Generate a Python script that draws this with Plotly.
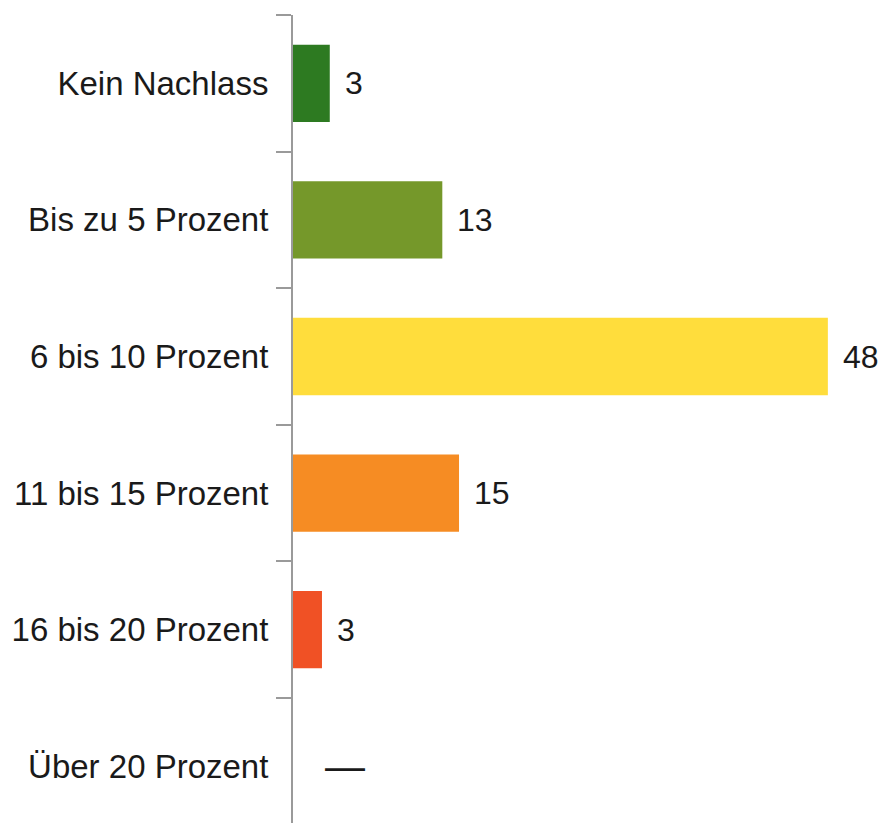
import plotly.graph_objects as go

categories = ["Kein Nachlass", "Bis zu 5 Prozent", "6 bis 10 Prozent",
              "11 bis 15 Prozent", "16 bis 20 Prozent", "Über 20 Prozent"]
values = [3.3, 13.4, 48.0, 14.9, 2.6, 0.0]
value_labels = ["3", "13", "48", "15", "3", "—"]
colors = ["#2D7A21", "#75982A", "#FFDD3C", "#F68C23", "#F05125", "#FFFFFF"]

FONT = "Liberation Sans, Arial, sans-serif"

fig = go.Figure()
fig.add_trace(go.Bar(
    y=categories, x=values, orientation="h",
    marker=dict(color=colors, line=dict(width=0)),
    hoverinfo="skip",
))

for cat, v, lab in zip(categories, values, value_labels):
    is_dash = lab == "—"
    fig.add_annotation(
        x=v, y=cat, text=lab, showarrow=False,
        xanchor="left", yanchor="middle",
        xshift=30 if is_dash else 13,
        font=dict(family=FONT, size=40 if is_dash else 32, color="#1a1a1a"),
    )

fig.update_layout(
    width=870, height=815,
    margin=dict(l=285, r=0, t=7, b=0),
    paper_bgcolor="white", plot_bgcolor="white",
    bargap=0.434,
    showlegend=False,
    font=dict(family=FONT, size=32, color="#1a1a1a"),
    xaxis=dict(range=[0, 52.5], visible=False, fixedrange=True),
    yaxis=dict(
        categoryorder="array", categoryarray=categories[::-1],
        range=[-0.415, 5.5], autorange=False,
        showline=True, linecolor="#9a9a9a", linewidth=2,
        ticks="outside", ticklen=15, tickwidth=2, tickcolor="#9a9a9a",
        tickson="boundaries", showgrid=False, zeroline=False,
        tickfont=dict(family=FONT, size=33, color="#1a1a1a"),
        ticklabelstandoff=16,
    ),
)

fig.write_html("out.html")
